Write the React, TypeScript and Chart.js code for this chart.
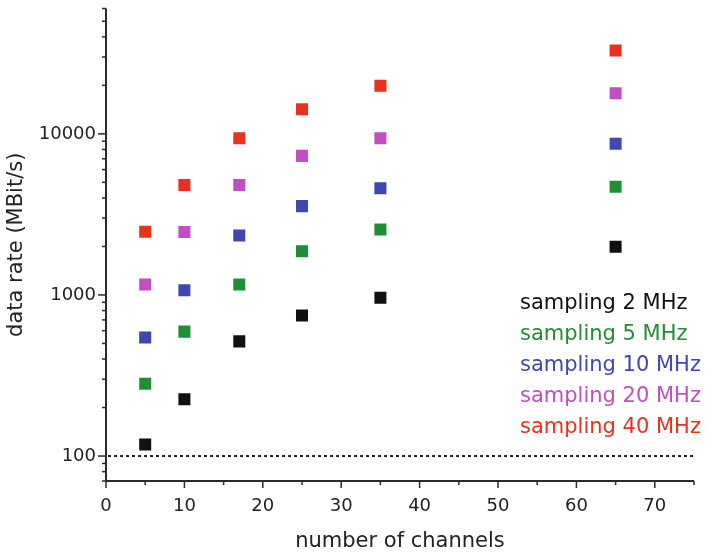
import React, { useEffect, useRef } from "react";
import { Chart, registerables } from "chart.js";

Chart.register(...registerables);

const channels = [5, 10, 17, 25, 35, 65];
const rate2MHz = [118, 225, 515, 745, 960, 1990];
const rate5MHz = [281, 592, 1160, 1870, 2545, 4700];
const rate10MHz = [545, 1070, 2340, 3560, 4600, 8680];
const rate20MHz = [1160, 2460, 4820, 7300, 9390, 17850];
const rate40MHz = [2470, 4820, 9390, 14200, 19900, 32900];

const seriesLabels = [
  "sampling 2 MHz",
  "sampling 5 MHz",
  "sampling 10 MHz",
  "sampling 20 MHz",
  "sampling 40 MHz",
];
const seriesColors = ["#111111", "#1f8f34", "#3f47b5", "#c24ec4", "#e8321e"];
const seriesValues = [rate2MHz, rate5MHz, rate10MHz, rate20MHz, rate40MHz];

const yTickValues = [
  70, 80, 90, 100, 200, 300, 400, 500, 600, 700, 800, 900, 1000, 2000, 3000,
  4000, 5000, 6000, 7000, 8000, 9000, 10000, 20000, 30000, 40000, 50000, 60000,
];
const yLabelValues = [100, 1000, 10000];
const xLabelValues = [0, 10, 20, 30, 40, 50, 60, 70];
const thresholdValue = 100;

const FONT = "'DejaVu Sans', Verdana, sans-serif";
const AXIS_COLOR = "#2a2a2a";

const decorPlugin = {
  id: "decor",
  afterDraw(chart: any) {
    const { ctx, chartArea, scales } = chart;
    const xs = scales.x;
    const ys = scales.y;
    ctx.save();
    ctx.strokeStyle = AXIS_COLOR;
    ctx.lineWidth = 2;
    ctx.beginPath();
    ctx.moveTo(chartArea.left, chartArea.top);
    ctx.lineTo(chartArea.left, chartArea.bottom);
    ctx.lineTo(chartArea.right, chartArea.bottom);
    ctx.stroke();
    ctx.lineWidth = 1.5;
    ys.ticks.forEach((t: any) => {
      const py = ys.getPixelForValue(t.value);
      const major = yLabelValues.includes(t.value);
      const len = major ? 8 : 4;
      ctx.beginPath();
      ctx.moveTo(chartArea.left - len, py);
      ctx.lineTo(chartArea.left, py);
      ctx.stroke();
    });
    xs.ticks.forEach((t: any) => {
      const px = xs.getPixelForValue(t.value);
      const major = xLabelValues.includes(t.value);
      const len = major ? 7 : 4;
      ctx.beginPath();
      ctx.moveTo(px, chartArea.bottom);
      ctx.lineTo(px, chartArea.bottom + len);
      ctx.stroke();
    });
    const ty = ys.getPixelForValue(thresholdValue);
    ctx.setLineDash([3, 3]);
    ctx.lineWidth = 2;
    ctx.strokeStyle = "#222";
    ctx.beginPath();
    ctx.moveTo(chartArea.left + 2, ty);
    ctx.lineTo(chartArea.right, ty);
    ctx.stroke();
    ctx.setLineDash([]);
    ctx.font = `21px ${FONT}`;
    ctx.textAlign = "left";
    ctx.textBaseline = "middle";
    chart.data.datasets.forEach((ds: any, i: number) => {
      ctx.fillStyle = ds.backgroundColor;
      ctx.fillText(ds.label, 520, 304 + i * 30.8);
    });
    ctx.restore();
  },
};

export default function App() {
  const ref = useRef<HTMLCanvasElement | null>(null);
  useEffect(() => {
    document.body.style.margin = "0";
    const canvas = ref.current;
    if (!canvas) return;
    const chart = new Chart(canvas, {
      type: "scatter",
      data: {
        datasets: seriesValues.map((vals, i) => ({
          label: seriesLabels[i],
          data: channels.map((c, j) => ({ x: c, y: vals[j] })),
          backgroundColor: seriesColors[i],
          borderColor: seriesColors[i],
          borderWidth: 0,
          pointStyle: "rect",
          pointRadius: 8.5,
          pointHoverRadius: 8.5,
        })),
      },
      options: {
        animation: false,
        responsive: false,
        events: [],
        layout: { padding: { top: 6, right: 15, left: 0, bottom: 0 } },
        plugins: {
          legend: { display: false },
          tooltip: { enabled: false },
        },
        scales: {
          x: {
            type: "linear",
            min: 0,
            max: 75,
            border: { display: false },
            grid: { display: false, drawTicks: false },
            ticks: {
              stepSize: 5,
              autoSkip: false,
              maxRotation: 0,
              padding: 15,
              color: "#222",
              font: { family: FONT, size: 18 },
              callback: (v: any) => (xLabelValues.includes(v) ? String(v) : ""),
            },
            title: {
              display: true,
              text: "number of channels",
              color: "#222",
              font: { family: FONT, size: 21 },
              padding: { top: 0, bottom: 1 },
            },
            afterFit: (s: any) => {
              s.height = 74;
              s.paddingLeft = 0;
              s.paddingRight = 0;
            },
          },
          y: {
            type: "logarithmic",
            min: 70,
            max: 60000,
            border: { display: false },
            grid: { display: false, drawTicks: false },
            afterBuildTicks: (s: any) => {
              s.ticks = yTickValues.map((v) => ({ value: v }));
            },
            ticks: {
              autoSkip: false,
              padding: 10,
              color: "#222",
              font: { family: FONT, size: 18 },
              callback: (v: any) => (yLabelValues.includes(v) ? String(v) : ""),
            },
            title: {
              display: true,
              text: "data rate (MBit/s)",
              color: "#222",
              font: { family: FONT, size: 21 },
              padding: { top: 4, bottom: 0 },
            },
            afterFit: (s: any) => {
              s.width = 106;
              s.paddingTop = 0;
              s.paddingBottom = 0;
            },
          },
        },
      },
      plugins: [decorPlugin],
    });
    return () => chart.destroy();
  }, []);
  return (
    <div style={{ width: 709, height: 555 }}>
      <canvas ref={ref} width={709} height={555} />
    </div>
  );
}
